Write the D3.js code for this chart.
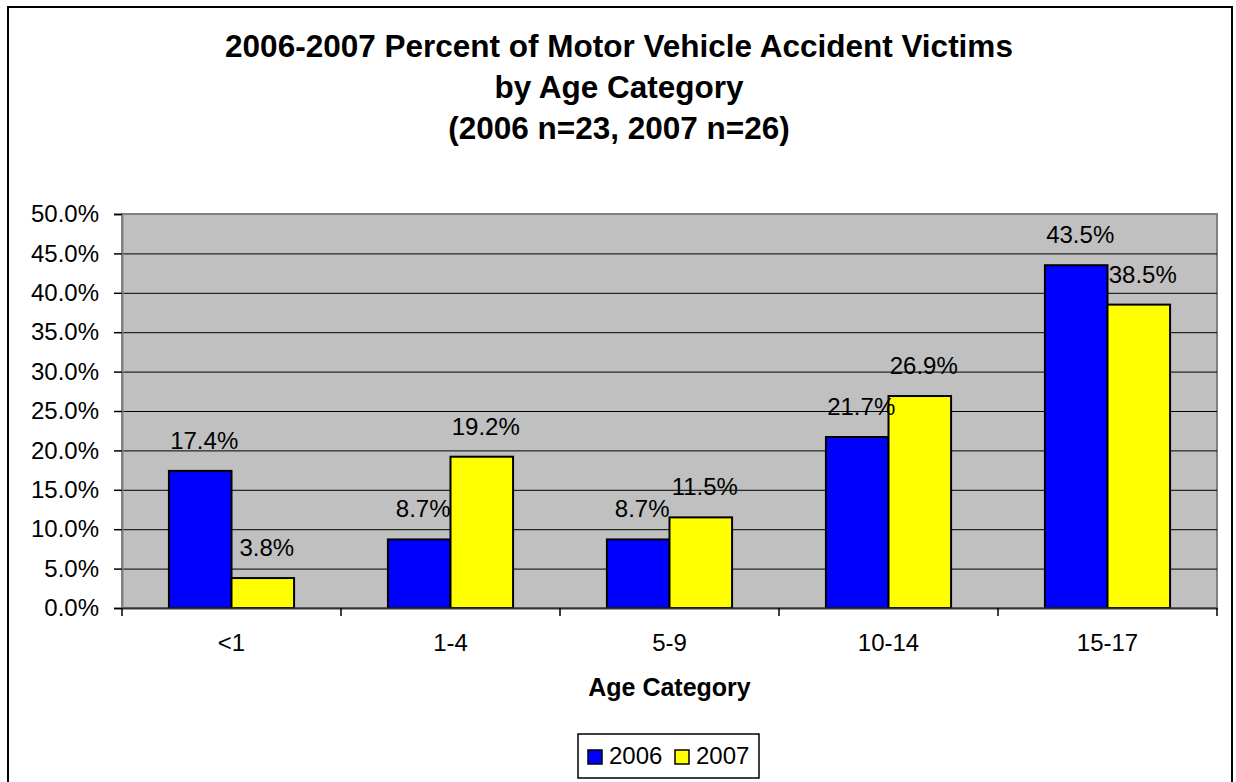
<!DOCTYPE html>
<html>
<head>
<meta charset="utf-8">
<script src="https://cdn.jsdelivr.net/npm/d3@7"></script>
<style>
  body { margin: 0; background: #fff; }
  text { font-family: "Liberation Sans", Arial, sans-serif; fill: #000; }
</style>
</head>
<body>
<div id="chart"></div>
<script>
// data
var categories = ["<1", "1-4", "5-9", "10-14", "15-17"];
var series = ["2006", "2007"];
var values2006 = [17.4, 8.7, 8.7, 21.7, 43.5];
var values2007 = [3.8, 19.2, 11.5, 26.9, 38.5];
var colors = ["#0000FF", "#FFFF00"];
var yTicks = [0, 5, 10, 15, 20, 25, 30, 35, 40, 45, 50];
var titleLines = ["2006-2007 Percent of Motor Vehicle Accident Victims",
                  "by Age Category",
                  "(2006 n=23, 2007 n=26)"];

var W = 1236, H = 782;
var plot = {left: 122, right: 1217, top: 214, bottom: 608};

var svg = d3.select("#chart").append("svg")
    .attr("width", W)
    .attr("height", H);

svg.append("rect")
    .attr("width", W).attr("height", H)
    .attr("fill", "#fff");

// outer chart border (bottom edge runs off the page)
svg.append("rect")
    .attr("x", 8).attr("y", 7)
    .attr("width", 1224).attr("height", 790)
    .attr("fill", "none")
    .attr("stroke", "#000")
    .attr("stroke-width", 2);

// title
svg.append("g").selectAll("text")
    .data(titleLines)
    .enter().append("text")
    .attr("x", 619)
    .attr("y", function(d, i) { return [57, 98, 139][i]; })
    .attr("text-anchor", "middle")
    .attr("font-size", "31.5px")
    .attr("font-weight", "bold")
    .text(function(d) { return d; });

var x = d3.scaleBand()
    .domain(categories)
    .range([plot.left, plot.right]);

var groupW = x.bandwidth() / 1.75;   // gap width 75%
var xs = d3.scaleBand()
    .domain(series)
    .range([0, groupW]);

var y = d3.scaleLinear()
    .domain([0, 50])
    .range([plot.bottom, plot.top]);

// plot area
svg.append("rect")
    .attr("x", plot.left).attr("y", plot.top)
    .attr("width", plot.right - plot.left)
    .attr("height", plot.bottom - plot.top)
    .attr("fill", "#C0C0C0")
    .attr("stroke", "#808080")
    .attr("stroke-width", 2);

// gridlines
svg.append("g").selectAll("line")
    .data(yTicks.filter(function(t) { return t > 0 && t < 50; }))
    .enter().append("line")
    .attr("x1", plot.left).attr("x2", plot.right)
    .attr("y1", function(d) { return y(d) + 0.5; })
    .attr("y2", function(d) { return y(d) + 0.5; })
    .attr("stroke", "#000")
    .attr("stroke-width", 1);

// y axis
var yAxis = svg.append("g")
    .attr("transform", "translate(" + plot.left + ",0)")
    .call(d3.axisLeft(y)
        .tickValues(yTicks)
        .tickSize(8)
        .tickPadding(15)
        .tickFormat(function(d) { return d.toFixed(1) + "%"; }));
yAxis.select(".domain").attr("stroke", "#808080").attr("stroke-width", 2);
yAxis.selectAll(".tick line").attr("stroke", "#000").attr("stroke-width", 1.5);
yAxis.selectAll(".tick text")
    .attr("font-size", "24px")
    .attr("font-family", "Liberation Sans, Arial, sans-serif")
    .attr("fill", "#000");

// bars
var rows = categories.map(function(c, i) {
  return {cat: c, vals: [values2006[i], values2007[i]]};
});

var groups = svg.append("g").selectAll("g")
    .data(rows)
    .enter().append("g")
    .attr("transform", function(d) {
      return "translate(" + (x(d.cat) + (x.bandwidth() - groupW) / 2) + ",0)";
    });

groups.selectAll("rect")
    .data(function(d) { return d.vals.map(function(v, j) { return {s: series[j], v: v, j: j}; }); })
    .enter().append("rect")
    .attr("x", function(d) { return xs(d.s); })
    .attr("y", function(d) { return y(d.v); })
    .attr("width", xs.bandwidth())
    .attr("height", function(d) { return y(0) - y(d.v); })
    .attr("fill", function(d) { return colors[d.j]; })
    .attr("stroke", "#000")
    .attr("stroke-width", 2);

groups.selectAll("text")
    .data(function(d) { return d.vals.map(function(v, j) { return {s: series[j], v: v, j: j}; }); })
    .enter().append("text")
    .attr("x", function(d) { return xs(d.s) + xs.bandwidth() / 2 + 4; })
    .attr("y", function(d) { return y(d.v) - 22; })
    .attr("text-anchor", "middle")
    .attr("font-size", "24px")
    .text(function(d) { return d.v.toFixed(1) + "%"; });

// x axis
var xAxis = svg.append("g")
    .attr("transform", "translate(0," + plot.bottom + ")")
    .call(d3.axisBottom(x).tickSize(0).tickPadding(26));
xAxis.select(".domain").attr("stroke", "#333").attr("stroke-width", 2);
xAxis.selectAll(".tick text")
    .attr("font-size", "24px")
    .attr("font-family", "Liberation Sans, Arial, sans-serif")
    .attr("fill", "#000");

// category boundary ticks
svg.append("g").selectAll("line")
    .data(categories.concat(["end"]))
    .enter().append("line")
    .attr("x1", function(d, i) { return i < categories.length ? x(d) : plot.right; })
    .attr("x2", function(d, i) { return i < categories.length ? x(d) : plot.right; })
    .attr("y1", plot.bottom)
    .attr("y2", plot.bottom + 8)
    .attr("stroke", "#000")
    .attr("stroke-width", 1.5);

// axis title
svg.append("text")
    .attr("x", (plot.left + plot.right) / 2)
    .attr("y", 696)
    .attr("text-anchor", "middle")
    .attr("font-size", "25px")
    .attr("font-weight", "bold")
    .text("Age Category");

// legend
var legend = svg.append("g").attr("transform", "translate(578,734)");
legend.append("rect")
    .attr("width", 181).attr("height", 44)
    .attr("fill", "#fff")
    .attr("stroke", "#000")
    .attr("stroke-width", 1.5);

var item = legend.selectAll("g.item")
    .data(series)
    .enter().append("g")
    .attr("class", "item")
    .attr("transform", function(d, i) { return "translate(" + (10 + i * 87) + ",16)"; });
item.append("rect")
    .attr("width", 14).attr("height", 14)
    .attr("fill", function(d, i) { return colors[i]; })
    .attr("stroke", "#000")
    .attr("stroke-width", 1.5);
item.append("text")
    .attr("x", 21)
    .attr("y", 14)
    .attr("font-size", "24px")
    .text(function(d) { return d; });
</script>
</body>
</html>
